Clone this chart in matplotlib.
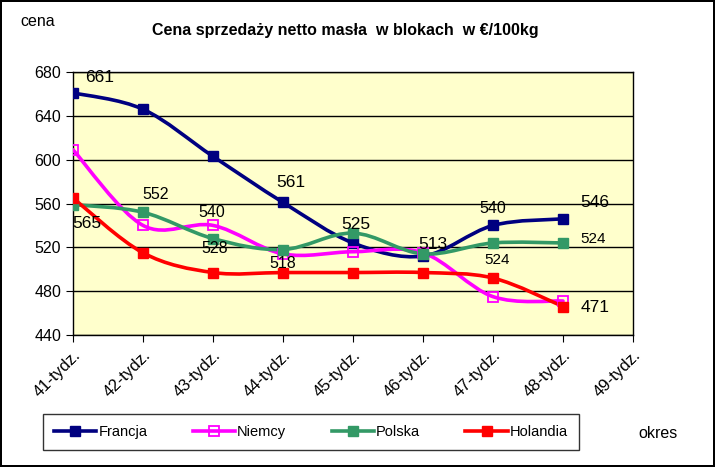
#!/usr/bin/env python
# -*- coding: utf-8 -*-

import matplotlib
matplotlib.use('Agg')
import matplotlib.pyplot as plt
from matplotlib.path import Path
from matplotlib.patches import PathPatch
from matplotlib.lines import Line2D

########################################################################################################################

TYGODNIE = ['41-tydz.', '42-tydz.', '43-tydz.', '44-tydz.', '45-tydz.',
            '46-tydz.', '47-tydz.', '48-tydz.', '49-tydz.']

FRANCJA = [661, 646, 603, 561, 524, 512, 540, 546]
NIEMCY = [609, 540, 540, 514, 516, 515, 475, 471]
POLSKA = [559, 552, 528, 518, 533, 514, 524, 524]
HOLANDIA = [565, 515, 497, 497, 497, 497, 492, 466]

NAZWY = ['Francja', 'Niemcy', 'Polska', 'Holandia']
KOLORY = ['#000080', '#FF00FF', '#339966', '#FF0000']

# etykiety danych: (seria, indeks, tekst)
ETYKIETY = [
    ('Francja', 0, '661'), ('Holandia', 0, '565'), ('Polska', 1, '552'),
    ('Niemcy', 2, '540'), ('Polska', 2, '528'), ('Francja', 3, '561'),
    ('Polska', 3, '518'), ('Francja', 4, '525'), ('Polska', 5, '513'),
    ('Francja', 6, '540'), ('Polska', 6, '524'), ('Francja', 7, '546'),
    ('Polska', 7, '524'), ('Holandia', 7, '471'),
]
# przesunięcia etykiet w punktach (dx, dy) i rozmiar czcionki
PRZESUNIECIA = [(19, 11, 12.5), (10, -18, 12.5), (9, 13, 11.5), (-1, 9, 11.5), (1, -7, 11.5), (6, 14, 12.5),
                (0, -10, 11.5), (2, 13, 12.5), (7, 7, 12.5), (0, 12, 11.5), (3, -12, 11), (23, 12, 12.5),
                (22, 3, 11), (23, -1, 12.5)]

########################################################################################################################

plt.rcParams['font.family'] = ['Liberation Sans', 'DejaVu Sans']


def gladka_sciezka(xs, ys):
    """Krzywa wygładzona jak w Excelu (Bezier z punktów sąsiednich)"""
    pts = list(zip(xs, ys))
    verts = [pts[0]]
    codes = [Path.MOVETO]
    for i in range(len(pts) - 1):
        p0 = pts[i - 1] if i > 0 else pts[i]
        p1 = pts[i]
        p2 = pts[i + 1]
        p3 = pts[i + 2] if i + 2 < len(pts) else pts[i + 1]
        c1 = (p1[0] + (p2[0] - p0[0]) / 6, p1[1] + (p2[1] - p0[1]) / 6)
        c2 = (p2[0] - (p3[0] - p1[0]) / 6, p2[1] - (p3[1] - p1[1]) / 6)
        verts += [c1, c2, p2]
        codes += [Path.CURVE4] * 3
    return Path(verts, codes)


def main():
    serie = dict(zip(NAZWY, [FRANCJA, NIEMCY, POLSKA, HOLANDIA]))

    fig = plt.figure(figsize=(7.15, 4.67), dpi=100)
    fig.patch.set_edgecolor('black')
    fig.patch.set_linewidth(1.5)
    ax = fig.add_axes([73 / 715, 1 - 335 / 467, 560 / 715, 263 / 467])
    ax.set_facecolor('#FFFFCC')

    x = list(range(len(TYGODNIE)))
    handles = []
    for nazwa, kolor in zip(NAZWY, KOLORY):
        ys = serie[nazwa]
        xs = x[:len(ys)]
        ax.add_patch(PathPatch(gladka_sciezka(xs, ys), facecolor='none', edgecolor=kolor,
                               lw=2.6, capstyle='round', joinstyle='round', zorder=3))
        if nazwa == 'Niemcy':
            ax.plot(xs, ys, 's', ms=7, mfc='none', mec=kolor, mew=1.3, zorder=4)
            h = Line2D([0], [0], color=kolor, lw=2.6, marker='s', ms=7, mfc='none', mec=kolor, mew=1.3)
        else:
            ax.plot(xs, ys, 's', ms=7, color=kolor, zorder=4)
            h = Line2D([0], [0], color=kolor, lw=2.6, marker='s', ms=7)
        handles.append(h)

    for (nazwa, i, tekst), (dx, dy, fs) in zip(ETYKIETY, PRZESUNIECIA):
        ax.annotate(tekst, (x[i], serie[nazwa][i]), xytext=(dx, dy), textcoords='offset points',
                    ha='center', va='center', fontsize=fs, zorder=5)

    ax.set_xlim(0, len(TYGODNIE) - 1)
    ax.set_ylim(440, 680)
    ax.set_yticks(range(440, 681, 40))
    ax.set_xticks(x)
    ax.set_xticklabels(TYGODNIE, rotation=45, ha='right', rotation_mode='anchor', fontsize=12)
    ax.tick_params(axis='y', labelsize=11.5, length=5, direction='out', color='black')
    ax.tick_params(axis='x', length=5, direction='out', color='black', pad=4)
    ax.grid(axis='y', color='black', lw=1)
    ax.set_axisbelow(True)
    for s in ax.spines.values():
        s.set_color('black')
        s.set_linewidth(1)

    fig.text(345 / 715, 1 - 31 / 467, 'Cena sprzedaży netto masła  w blokach  w €/100kg',
             ha='center', va='center', fontsize=11.5, fontweight='bold')
    fig.text(38 / 715, 1 - 22 / 467, 'cena', ha='center', va='center', fontsize=11.5)
    fig.text(658 / 715, 1 - 433 / 467, 'okres', ha='center', va='center', fontsize=11.5)

    leg = fig.legend(handles, NAZWY, loc='center', bbox_to_anchor=(311 / 715, 1 - 432 / 467),
                     ncol=4, frameon=True, fancybox=False, handlelength=2.9, handletextpad=0.15,
                     columnspacing=3.1, borderpad=0.75, prop={'size': 10.5})
    leg.get_frame().set_edgecolor('black')
    leg.get_frame().set_linewidth(1)

    fig.savefig('out.png', dpi=100)


if __name__ == '__main__':
    main()
